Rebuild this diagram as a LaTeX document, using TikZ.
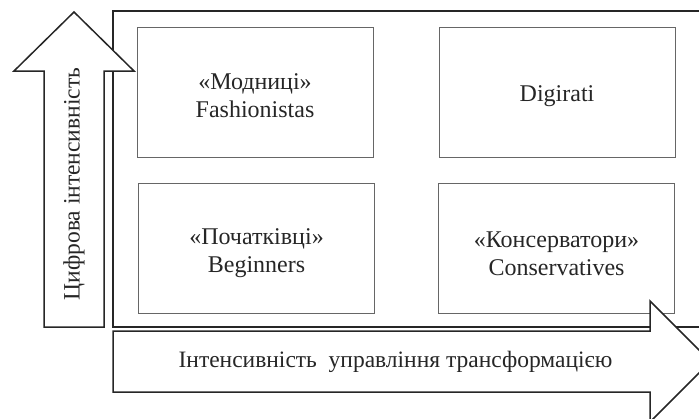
\documentclass[tikz,border=0pt]{standalone}
\usepackage{fontspec}
\setmainfont{Liberation Serif}
\begin{document}
\begin{tikzpicture}[x=1pt,y=-1pt,
  quad/.style={draw=black!60, line width=1pt, minimum width=236pt, minimum height=130pt, inner sep=0pt},
  qtext/.style={inner sep=0pt, align=center, font=\fontsize{24}{28}\selectfont, text=black!85},
  heavy/.style={draw=black!85, line width=1.5pt, line join=miter},
  lbl/.style={font=\fontsize{23.5}{26}\selectfont, text=black!85, inner sep=0pt}]
\useasboundingbox (0,0) rectangle (699,418);
\clip (0,0) rectangle (699,418);
% outer frame
\draw[heavy] (113,11) rectangle (730,327);
% quadrants
\node[quad] (fash) at (255,92) {};
\node[quad] (digi) at (557,92) {};
\node[quad] (beg) at (256.5,248.5) {};
\node[quad] (cons) at (556.5,248.5) {};
\node[qtext] (fashT) at ([yshift=-4pt]fash.center) {«Модниці»\\Fashionistas};
\node[qtext] (digiT) at ([yshift=-4pt]digi.center) {Digirati};
\node[qtext] (begT) at ([yshift=-5pt]beg.center) {«Початківці»\\Beginners};
\node[qtext] (consT) at ([yshift=-5pt]cons.center) {«Консерватори»\\Conservatives};
% vertical arrow
\draw[heavy, fill=white] (44,327) -- (44,71) -- (14,71) -- (74,12) -- (134,71) -- (104,71) -- (104,327) -- cycle;
\node[lbl, rotate=90] (ylab) at (74,184) {Цифрова інтенсивність};
% horizontal arrow
\draw[heavy, fill=white] (113,331) -- (650,331) -- (650,301) -- (710.5,361.5) -- (650,422) -- (650,392) -- (113,392) -- cycle;
\node[lbl] (xlab) at (395.5,362) {Інтенсивність\ \ управління трансформацією};
\end{tikzpicture}
\end{document}
